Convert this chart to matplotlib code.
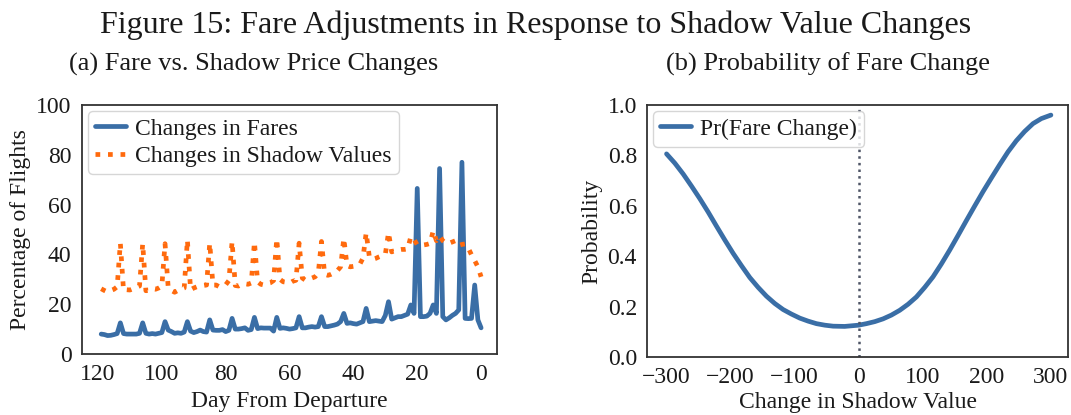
import matplotlib
matplotlib.use("Agg")
import matplotlib.pyplot as plt
import matplotlib.ticker as mticker
import seaborn as sns

sns.set_style("white")
plt.rcParams["font.family"] = ["Liberation Serif", "DejaVu Serif"]
plt.rcParams["axes.edgecolor"] = "#333333"
plt.rcParams["axes.linewidth"] = 1.3
plt.rcParams["text.color"] = "#1a1a1a"
plt.rcParams["axes.labelcolor"] = "#1a1a1a"
plt.rcParams["xtick.color"] = "#1a1a1a"
plt.rcParams["ytick.color"] = "#1a1a1a"

# days before departure, 119 down to 0
days = list(range(119, -1, -1))

# share of flights with a fare change on each day (%)
fare_changes = [
    8.0, 7.8, 7.4, 7.5, 7.8, 8.2, 12.5, 8.2, 8.0, 8.0,
    8.0, 8.0, 8.3, 12.5, 8.3, 8.0, 8.2, 8.0, 8.3, 8.6,
    13.0, 9.6, 9.0, 8.3, 8.5, 8.3, 8.8, 13.0, 9.2, 8.6,
    9.0, 9.6, 9.0, 8.8, 13.7, 9.6, 9.5, 9.5, 9.8, 9.0,
    9.5, 14.3, 10.0, 10.0, 10.2, 10.5, 9.5, 9.8, 14.7, 10.2,
    10.5, 10.4, 10.4, 10.4, 9.2, 14.7, 10.3, 10.5, 10.3, 10.0,
    10.2, 10.5, 15.0, 10.5, 10.5, 10.8, 11.0, 10.8, 11.0, 15.0,
    11.0, 11.0, 11.3, 11.6, 12.0, 13.0, 16.3, 12.3, 12.5, 12.2,
    12.0, 12.5, 13.0, 18.3, 13.0, 13.2, 13.4, 13.2, 13.0, 15.5,
    21.0, 14.0, 14.5, 15.0, 15.0, 15.5, 16.0, 19.7, 16.3, 66.5,
    15.0, 15.0, 15.2, 16.3, 19.7, 16.3, 74.5, 15.0, 13.7, 14.5,
    15.5, 16.3, 17.7, 77.0, 14.3, 14.2, 14.3, 27.7, 13.7, 10.5,
]

# share of flights with a shadow value change on each day (%)
shadow_changes = [
    26.2, 25.5, 24.9, 25.5, 26.0, 27.0, 44.5, 25.5, 25.8, 25.7,
    26.2, 26.8, 27.3, 44.3, 25.4, 25.6, 26.2, 26.0, 26.5, 27.3,
    44.3, 26.5, 25.5, 24.8, 25.5, 26.0, 26.5, 45.8, 25.8, 26.5,
    27.0, 27.3, 27.5, 27.7, 44.5, 27.7, 27.7, 27.0, 27.3, 27.8,
    29.5, 45.2, 27.5, 27.3, 28.0, 28.2, 28.0, 28.5, 45.0, 29.0,
    28.0, 27.7, 28.3, 28.6, 29.5, 46.3, 30.0, 29.0, 28.8, 28.4,
    29.2, 29.6, 44.5, 30.5, 29.6, 30.0, 30.5, 31.0, 32.5, 45.2,
    32.0, 31.6, 32.0, 32.6, 33.5, 35.0, 46.5, 35.5, 35.0, 35.2,
    35.5, 36.0, 38.5, 48.7, 39.0, 38.0, 38.4, 39.0, 39.5, 40.0,
    48.8, 41.0, 41.5, 41.8, 42.0, 42.0, 42.2, 47.2, 46.0, 43.8,
    43.4, 43.8, 44.0, 44.4, 49.5, 45.5, 47.4, 45.5, 44.4, 44.5,
    45.0, 45.5, 43.6, 44.0, 44.2, 42.5, 39.8, 37.5, 35.0, 31.0,
]

# probability of a fare change against the change in shadow value
shadow_delta = [-300, -287, -274, -261, -248, -235, -222, -209, -196, -183,
                -170, -157, -144, -131, -118, -105, -92, -79, -66, -53,
                -40, -22, 0, 12, 25, 38, 51, 64, 77, 90,
                103, 116, 129, 142, 155, 168, 181, 194, 207, 220,
                233, 246, 259, 272, 285, 300]
prob_change = [0.806, 0.769, 0.726, 0.678, 0.628, 0.575, 0.519, 0.464, 0.411, 0.362,
               0.315, 0.276, 0.241, 0.212, 0.188, 0.170, 0.154, 0.142, 0.132, 0.126,
               0.122, 0.121, 0.126, 0.132, 0.140, 0.151, 0.166, 0.185, 0.209, 0.238,
               0.276, 0.318, 0.369, 0.424, 0.482, 0.541, 0.599, 0.656, 0.710, 0.763,
               0.814, 0.858, 0.895, 0.926, 0.946, 0.960]

blue = "#3a6ea6"
orange = "#ff6a0d"
fs = 17

fig = plt.figure(figsize=(10.71, 4.15), dpi=100)
ax1 = fig.add_axes([0.0766, 0.147, 0.3875, 0.600])
ax2 = fig.add_axes([0.6044, 0.140, 0.3930, 0.607])

fig.text(0.5, 0.938, "Figure 15: Fare Adjustments in Response to Shadow Value Changes",
         ha="center", va="center", fontsize=23)
fig.text(0.237, 0.845, "(a) Fare vs. Shadow Price Changes", ha="center", va="center", fontsize=19)
fig.text(0.773, 0.845, "(b) Probability of Fare Change", ha="center", va="center", fontsize=19)

ax1.plot(days, fare_changes, color=blue, lw=3.4, label="Changes in Fares")
ax1.plot(days, shadow_changes, color=orange, lw=3.4, ls=":", label="Changes in Shadow Values")
ax1.set_xlim(125, -5)
ax1.set_ylim(0, 100)
ax1.set_xticks([120, 100, 80, 60, 40, 20, 0])
ax1.set_yticks([0, 20, 40, 60, 80, 100])
ax1.set_xlabel("Day From Departure", fontsize=fs, labelpad=4)
ax1.set_ylabel("Percentage of Flights", fontsize=fs, labelpad=4)
ax1.tick_params(labelsize=fs, pad=4)
ax1.legend(loc="upper left", fontsize=fs, handlelength=1.3, handletextpad=0.4,
           borderaxespad=0.25, borderpad=0.3, labelspacing=0.25)

ax2.plot(shadow_delta, prob_change, color=blue, lw=3.4, label="Pr(Fare Change)")
ax2.axvline(0, color="#4f5566", ls=":", lw=1.8)
ax2.set_ylim(0, 1.0)
ax2.set_xlim(-330, 327)
ax2.set_xticks([-300, -200, -100, 0, 100, 200, 300])
ax2.set_yticks([0.0, 0.2, 0.4, 0.6, 0.8, 1.0])
ax2.yaxis.set_major_formatter(mticker.FormatStrFormatter("%.1f"))
ax2.set_xlabel("Change in Shadow Value", fontsize=fs, labelpad=3)
ax2.set_ylabel("Probability", fontsize=fs, labelpad=4)
ax2.tick_params(labelsize=fs, pad=4)
ax2.legend(loc="upper left", fontsize=fs, handlelength=1.3, handletextpad=0.4,
           borderaxespad=0.25, borderpad=0.3)

fig.savefig("out.png", dpi=100)
